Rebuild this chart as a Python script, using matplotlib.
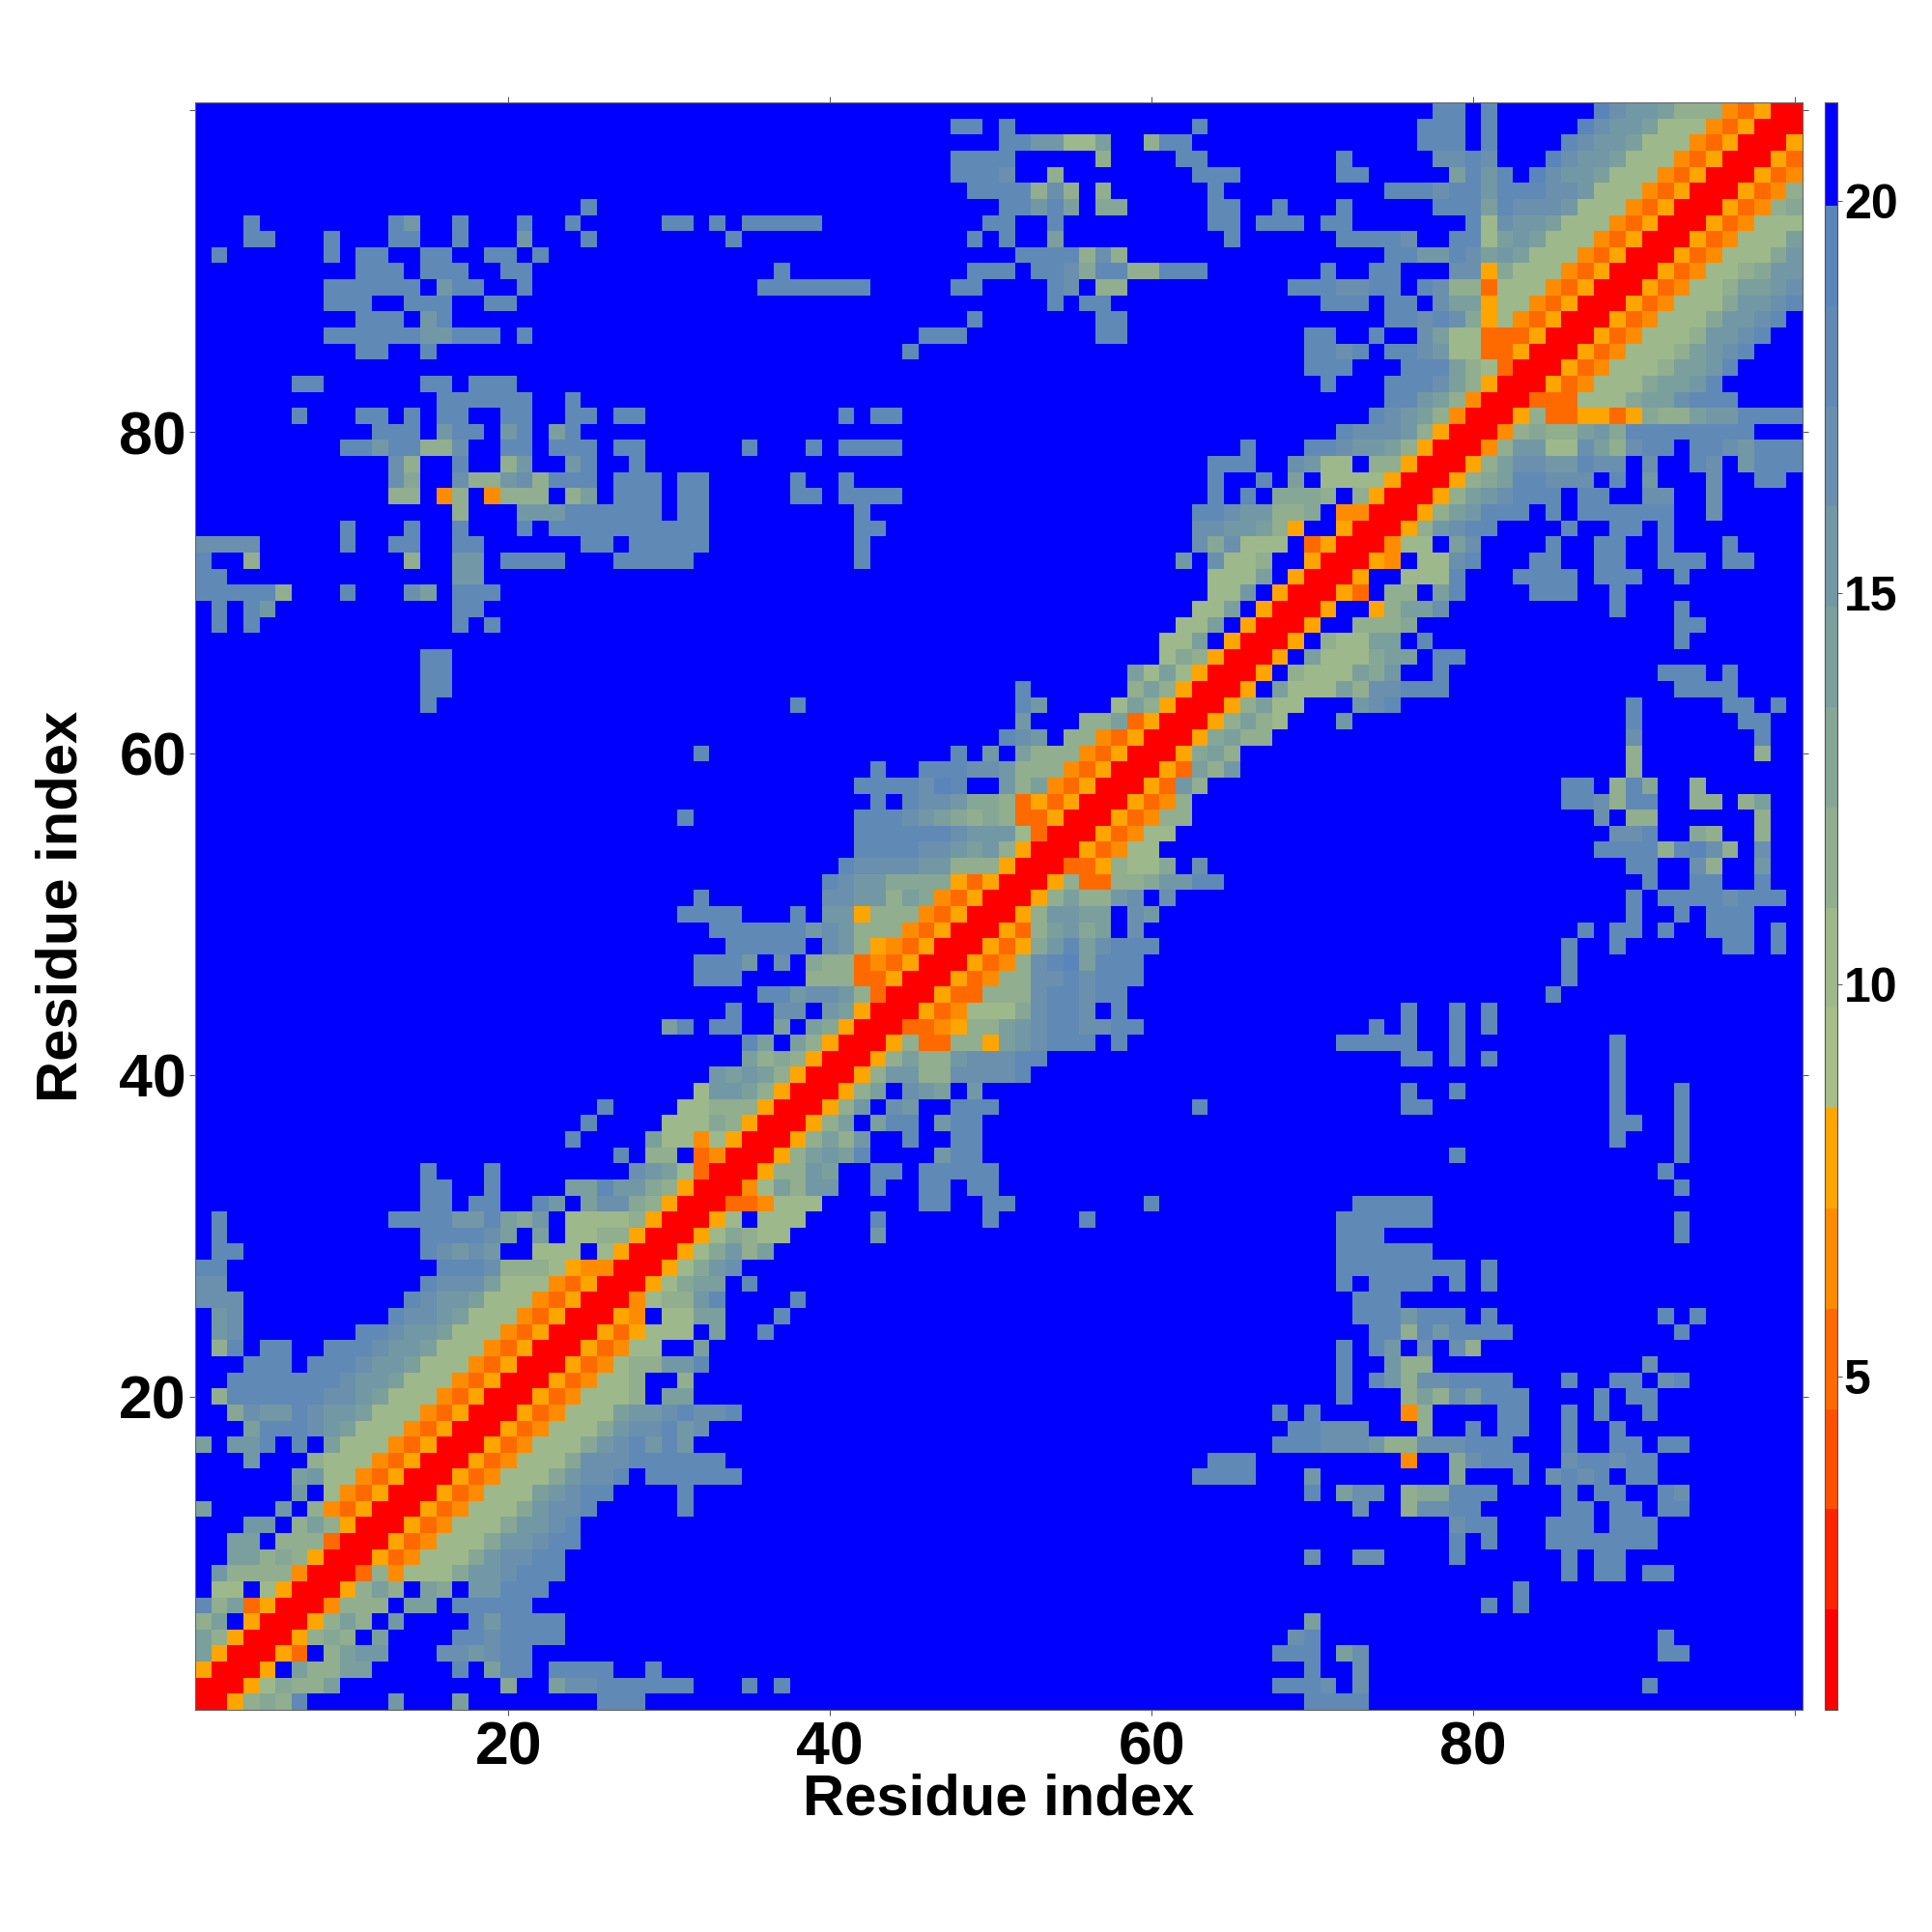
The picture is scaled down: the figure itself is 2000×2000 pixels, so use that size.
"""Residue distance map, 100 x 100, with a 16 level discrete colour bar."""

import matplotlib
matplotlib.use("Agg")
import matplotlib.pyplot as plt
import numpy as np
from matplotlib.colors import BoundaryNorm, ListedColormap

# Each row: "first_column levels first_column levels ...". Levels 0-9, a-e,
# and '.' or any cell not listed is the top (blue) level.
ROWS_TOP = {
    100: "78 dd 81 d 88 ecbba888 96 43500",
    99: "48 dd 51 d 63 d 77 ddd 81 d 87 ecbba777 95 435000",
    98: "51 ddbb77a 60 8dd 77 ddd 81 d 86 dcbba777 94 4350005",
    97: "48 dddd 57 8 62 dd 72 d 78 ccdc 85 ecbba777 93 43500053",
    96: "48 dddc 54 8 63 ddd 72 dd 79 adbd 84 ecbba777 92 435000534",
    95: "49 dddd 53 8c8 57 8 64 d 75 ddd 78 cddbdddccb777 91 4350005348",
    94: "25 d 51 dd 53 bda 57 99 64 dd 68 d 72 d 78 ddd 81 adcccb777 90 43500053489",
    93: "4 d 13 db 17 d 21 d 24 d 30 dd 33 d 35 ddddd 50 dd 54 d 64 dd 67 ddd 71 dd 80 d7cbba777 89 435000534777",
    92: "4 dd 9 d 13 dd 17 d 21 b 25 d 34 d 49 d 51 d 54 a 65 d 72 ddddc 79 dd7aba777 88 435000534777a",
    91: "2 d 9 d 11 dd 15 dd 19 dd 22 d 52 dddd 56 8c8 75 ddbbdcaba777 87 4350005347779b",
    90: "11 ddd 15 ddd 20 dd 37 d 49 ddd 53 ddc9dd88ddd 71 d 74 dd 79 cc59777 86 4350005347789bb",
    89: "9 dddddd 16 bdd 21 d 36 ddddddd 48 dd 54 dc 57 88 69 dddcc 74 dd 77 dc88 81 3777 85 435000534778aabc",
    88: "9 ddd 14 ddd 19 dd 54 d 56 dd 71 ddd 75 dd 78 caa577 84 4350005347779bbcd",
    87: "11 ddd 15 bd 49 d 57 dd 75 ddcdc957 83 4350005347779bbcd",
    86: "9 ddddddbbddd 21 d 46 ddd 57 dd 70 dd 74 d 77 ca77333 84 50005347778bbcd",
    85: "11 dd 15 d 45 d 70 ddcd 75 ddcb7733 83 50005347778abcd",
    84: "70 ddd 76 ddda873 83 0005347778aabd",
    83: "7 dd 15 dd 18 ddd 71 d 75 dddca850005347779aabd",
    82: "16 dddddd 24 d 75 ddba840003337779aacddd",
    81: "7 d 11 dd 14 d 16 dd 20 dd 24 dd 27 dd 41 d 43 dd 74 dcba84000583355359988abbdddd".replace("59988", "5988"),
    80: "12 ddd 16 bdd 20 bd 23 ad 72 dcccb8500048988ab9dddddddd",
    79: "10 ddbdd 15 88c 20 dd 23 ddd 27 dd 35 d 39 d 41 dddd 66 d 70 ddcbba8500048bb77ca8cdd.ddcbddd",
    78: "13 c8 17 d 20 8b 24 bd 28 d 64 ddd 69 cb77.88500058accbbdcc.c..dc.bddd",
    77: "13 c9 17 c88bc8ddd 27 ddd 31 dd 38 d 41 d 64 d 67 d.a.77775000589addccc.d.b...c..dd",
    76: "13 88 16 48.4888 24 8a 27 ddd 31 dd 38 dd 41 dddd 64 d 66 d 68 9998.8500058abcddd.dd..cc..c",
    75: "17 8 21 bbbdddddd 31 dd 42 d 63 ddcbb 68 889 72 4400058abddd.d.dddddd..c",
    74: "10 d 14 d 17 d 21 d 23 dddddddddd 42 dd 63 ccbba85..500058bcdd 86 d 89 dd 92 d",
    73: "1 cccc 10 d 13 dd 17 dd 25 dd 28 ddddd 42 d 63 c9c777.35000477.ac 85 d 88 dd 92 d 96 d",
    72: "1 d 4 8 14 8 17 bb 20 dddd 27 ddddd 42 d 62 b 64 c778..500054.77cd 84 dd 88 dd 92 ddd 96 dd",
    71: "1 dd 17 bb 64 777a.50005..777d 83 dddd 88 ddd 93 d",
    70: "1 ddddd8 10 d 14 ca 17 ddd 64 77b.500053.88.ad 84 ddd 89 d",
    69: "2 d 4 db 17 dd 63 77a.50005..58aac 89 d 93 d",
    68: "2 d 4 d 17 d 19 d 62 77a.50005..8889 93 dd",
    67: "61 77a.50005.877aa.d 93 d",
}

ROWS_MID = {
    66: "15 dd 61 79850005.a7779aa.dd",
    65: "15 dd 59 a7a750005.8777a9b..d 92 ddd 96 d",
    64: "15 dd 52 d 59 8a850005.a777a8ccddd 93 dddd",
    63: "15 d 38 d 52 db 58 7a8500058a77...bcd 90 d 96 dd 99 d",
    62: "52 b 56 88a3500058a87 72 b 90 d 97 dd",
    61: "51 dcb.8843500059a88 90 c 98 d",
    60: "32 d 48 d 50 b 52 a88843500059a8 90 8 98 8",
    59: "43 d 46 dddccb88843500053a8b 90 8",
    58: "42 ddddced 51 b8a43500053b8 86 dd 89 8d9 94 8",
    57: "43 d 45 dccb99835350005348 86 ddc8dd 94 88 97 8a",
    56: "31 d 42 dddcba989833500053488 88 c 90 88 98 8",
    55: "42 ddddddcbbb7300053477 89 ccd 94 98 98 8",
    54: "42 ddddccbab8500053477 88 dddd8dec8 98 c",
    53: "41 dccccbb88850003358779 63 c 90 dd 94 c8 98 b",
    52: "40 dcbb99995350005833889bbdd 91 d 94 dd 98 d",
    51: "32 d 40 ccbb8a943500058a88bc.c 90 d 92 ddddcddd",
    50: "31 dddd 38 d 40 bb588843500058bbaa.cb 90 d 93 d 95 ddd",
    49: "33 ddddddbcb888435000538ab9a.c 87 d 89 dd 92 d 95 ddd 99 d",
    48: "34 ddddd 40 cb854350005359bdacddd 86 d 89 d 96 dd 99 d",
    47: "32 dddb 37 c 39 98834350005348cdeaddd 86 d",
    46: "32 ddd 39 88833500053488ccdcddd 86 d",
    45: "36 ddbccb83000533888cddcdd 85 d",
    44: "34 d 37 cc.ba50005347779cddc.d 76 d 79 d 81 d",
    43: "30 ad 33 dd 37 a.a95000334588abcddccdd 74 d 76 d 79 d 81 d",
    42: "35 da.a850005833885abcddd.d 72 ddddd 79 d 89 d",
    41: "35 a898500058a88bcccdd 76 dd 79 d 81 d 89 d",
    40: "33 baba8500058bb88ccccd 89 d",
    39: "32 7bba8500058a.cba.b 76 d 79 d 89 d 93 d",
    38: "26 d 31 77888500058b.cb..ddd 63 d 76 dd 89 d 93 d",
    37: "25 d 30 77798500058a.add.bdd 89 dd 93 d",
    36: "24 d 29 a7747500058a8b..d..dd 89 d 93 d",
    35: "27 d 29 88.3400058abad....bdd 79 d 93 d",
    34: "15 d 19 d 28 cba73000588ba..dd.ddddd 92 d",
}

ROWS_LOW = {
    33: "15 dd 19 d 24 aadbb98500047a8bb 43 d 46 dd 49 dd 93 d",
    32: "15 dd 18 dd 22 db.acc985000334777 46 dd 50 dd 60 d 73 ddddd",
    31: "2 d 13 ddddbbda9b.77778500057.777 43 d 50 d 56 d 72 dddddd 93 d",
    30: "2 d 15 ddddca.a.77885000579877 43 b 72 ddd 93 d",
    29: "2 dd 15 dcbcb..777.75000579b8a 72 dddddd",
    28: "1 dd 16 dddc8887544000579bc 72 dddddddd 81 d",
    27: "1 cc 15 dccca777435000579aa.d 72 d 74 dddd 79 d 81 d",
    26: "1 ccc 14 dcbba7774350004788bd 38 d 73 ddd",
    25: "2 bc 13 dccba77743500054.77aa 37 d 73 dddbddd 81 d 92 d 94 d",
    24: "2 bc 11 ddcbba777435000535777.a 36 d 74 dd8dbdddd 93 d",
    23: "2 8d 5 dd 9 dddcbba77743500053477..a 72 d 74 db.c.c8",
    22: "4 ddd 8 dddcbba777435000534788bbd 72 d 75 b88 91 c",
    21: "3 dddddddcbba777435000534778..8 72 d 74 db8ccdddd 86 d 89 dd 92 cd",
    20: "2 8ddddddccba7774350005347778.aa 72 d 76 8a8caddd 88 d 90 dd",
    19: "3 9cbbdcbba777435000534777abbcdccd 68 d 70 d 76 48 82 dd 86 d 88 d 91 d",
    18: "4 adddcba7774350005347779bccdbc 69 ddccc 77 8 80 d 82 dd 86 d 89 d",
    17: "1 a 3 bbd 7 d 9 a7774350005347779bcdbdb 68 dddcccb88cccddd 86 d 89 dd 92 dd",
    16: "4 b 8 87774350005347779cccdddddd 64 ddd 76 4 79 9cddd 86 cddcdd",
    15: "7 ab774350005347779bccd.dddddd 63 dddd 70 b 79 9 83 d 85 cdcd.dd",
    14: "7 b.7435000534777abcdd 31 d 70 d 72 acc 76 899ddd 86 d 88 dd 92 dc",
    13: "1 a 6 b.84350005347779bccd 31 d 73 c 76 8ccdd 86 dd 89 dd 92 dd",
    12: "4 bb.8a850005347779bbcd 79 cdd 85 ddd 89 ddd",
    11: "3 aa.88830005347779bbcdd 79 d 81 d 85 ddddddd",
    10: "3 aa89850005347779bccdd 70 c 73 cc 79 d 86 d 88 dd",
    9: "2 b888840003847779bbcddd 86 d 88 dd 91 dd",
    8: "2 77.7500058a8.a9.bbddd 83 d",
    7: "1 d8a350004888.aa.ddddd 81 d 83 d",
    6: "1 8a.500058a8.b 18 dbdddd 70 a",
    5: "1 a850005898.a 17 ddcdddd 69 cd 92 d",
    4: "1 a500053.8abb 16 ccbcdd 68 ddd 72 ac 92 dd",
    3: "1 50005.a88aa 17 d 19 add 23 dddd 29 d 70 d 73 c",
    2: "1 0005798 8a 20 9 23 accdddddd 35 d 37 d 68 dddc 73 c 91 d".replace("98 8a", "988a"),
    1: "1 005898d 13 b 17 a 26 ddd 70 dddd",
}

LEVEL_CODES = "0123456789abcde."
LEVEL_COLORS = [
    "#ff0000", "#ff2400", "#ff5000", "#ff6a00", "#ff8c00", "#ffa500",
    "#a6bf89", "#9db88a", "#91ae8e", "#86a795", "#7a9f9d", "#7298a5",
    "#6a90ad", "#6089b5", "#5a85bb", "#0000ff",
]
LEVEL_EDGES = [0.74, 2.02, 3.30, 4.58, 5.86, 7.14, 8.42, 9.70, 10.98,
               12.26, 13.54, 14.82, 16.10, 17.38, 18.66, 19.94, 21.26]

AXIS_TICKS = [20, 40, 60, 80, 100]
AXIS_TICK_LABELS = ["20", "40", "60", "80", ""]
COLORBAR_TICKS = [5, 10, 15, 20]
AXIS_LABEL = "Residue index"


def build_matrix():
    """Fill the 100 x 100 distance matrix from the row strings"""
    mids = [(a + b) / 2 for a, b in zip(LEVEL_EDGES[:-1], LEVEL_EDGES[1:])]
    mat = np.full((100, 100), mids[-1])
    for rows in (ROWS_TOP, ROWS_MID, ROWS_LOW):
        for y, spec in rows.items():
            parts = spec.split()
            for start, codes in zip(parts[::2], parts[1::2]):
                for i, c in enumerate(codes):
                    col = int(start) + i
                    if col <= 100:
                        mat[y - 1, col - 1] = mids[LEVEL_CODES.index(c)]
    return mat


plt.rcParams["font.family"] = ["Liberation Sans", "DejaVu Sans"]
plt.rcParams["font.weight"] = "bold"

W = 2000.0
fig = plt.figure(figsize=(20, 20), dpi=100, facecolor="white")
ax = fig.add_axes([202 / W, 1 - 1770 / W, 1664 / W, 1664 / W])
cax = fig.add_axes([1889 / W, 1 - 1770 / W, 13 / W, 1664 / W])

cmap = ListedColormap(LEVEL_COLORS)
norm = BoundaryNorm(LEVEL_EDGES, cmap.N)
im = ax.imshow(build_matrix(), origin="lower", cmap=cmap, norm=norm,
               extent=(0.5, 100.5, 0.5, 100.5), aspect="auto",
               interpolation="nearest")

ax.set_xticks(AXIS_TICKS, AXIS_TICK_LABELS)
ax.set_yticks(AXIS_TICKS, AXIS_TICK_LABELS)
ax.tick_params(axis="both", which="major", length=4.5, width=0.6, color="#333333",
               labelsize=45, top=True, right=True, direction="out")
ax.tick_params(axis="x", pad=3)
ax.tick_params(axis="y", pad=2)
for side in ax.spines.values():
    side.set_linewidth(0.8)
    side.set_color("#666666")

fig.text(1034 / W, 1 - 1863 / W, AXIS_LABEL, fontsize=43, fontweight="bold",
         ha="center", va="center")
fig.text(64 / W, 1 - 938 / W, AXIS_LABEL, fontsize=43, fontweight="bold",
         rotation=90, ha="center", va="center")

cb = fig.colorbar(im, cax=cax, ticks=COLORBAR_TICKS, spacing="proportional")
cb.ax.tick_params(length=3.5, width=0.6, color="#333333", labelsize=36, pad=1.5)
cb.ax.minorticks_off()
cb.outline.set_linewidth(0.8)
cb.outline.set_edgecolor("#555555")

fig.savefig("out.png", dpi=100, facecolor="white")
